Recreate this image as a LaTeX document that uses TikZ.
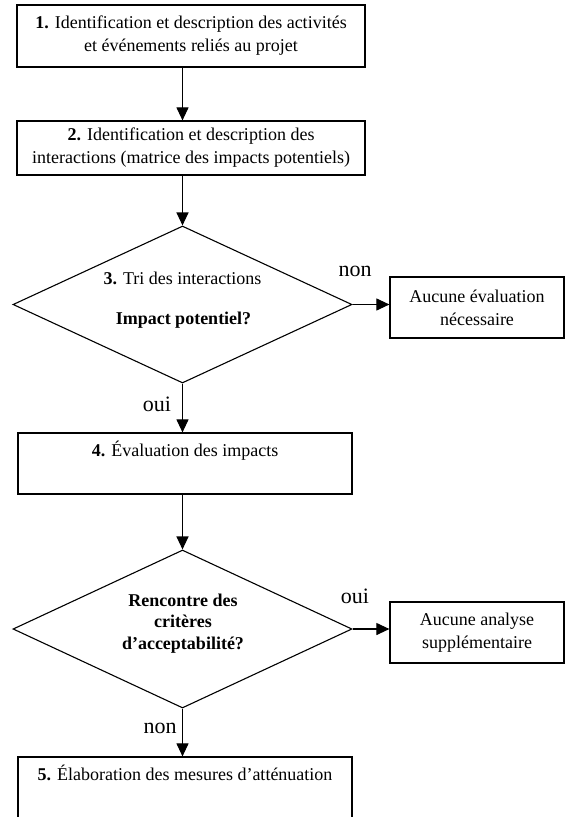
\documentclass[tikz,border=0pt]{standalone}
\usepackage{fontspec}
\setmainfont{Liberation Serif}
\usetikzlibrary{shapes.geometric,arrows.meta}
\tikzset{
  base/.style={font=\fontsize{18}{23}\selectfont, align=center, inner sep=0pt},
  box/.style={base, draw, line width=1.2pt, rectangle, minimum width=#1},
  dia/.style={draw, line width=1.1pt, diamond, inner sep=0pt, minimum width=339pt},
  txt/.style={base},
  lbl/.style={base, font=\fontsize{22}{26}\selectfont},
  arr/.style={line width=1.1pt, -{Triangle[length=13pt,width=12pt]}}
}
\begin{document}
\begin{tikzpicture}[x=1pt,y=-1pt]
\useasboundingbox (0,0) rectangle (565,817);
\clip (0,0) rectangle (565,817);
% boxes
\node[box=348pt, minimum height=62pt] (b1) at (191,36)
  {\textbf{1.} Identification et description des activités\\ et événements reliés au projet};
\node[box=348pt, minimum height=54pt] (b2) at (191,148)
  {\textbf{2.} Identification et description des\\ interactions (matrice des impacts potentiels)};
\node[dia, minimum height=157pt] (d1) at (182.5,304.5) {};
\node[txt] (t3a) at (182.5,278) {\textbf{3.} Tri des interactions};
\node[txt] (t3b) at (183.5,320) {\textbf{Impact potentiel?}};
\node[box=174pt, minimum height=61pt] (r1) at (477,307.5)
  {Aucune évaluation\\ nécessaire};
\node[box=334pt, minimum height=61pt] (b4) at (185,463.5)
  {\textbf{4.} Évaluation des impacts\\ \strut};
\node[dia, minimum height=158pt] (d2) at (182.5,629) {};
\node[txt, font=\fontsize{18}{21.5}\selectfont\bfseries] (t5) at (183,623.5)
  {Rencontre des\\ critères\\ d’acceptabilité?};
\node[box=174pt, minimum height=61pt] (r2) at (477,632.5)
  {Aucune analyse\\ supplémentaire};
\node[box=334pt, minimum height=62pt] (b5) at (185,788)
  {\textbf{5.} Élaboration des mesures d’atténuation\\ \strut};
% labels
\node[lbl] (lnon1) at (355,271) {non};
\node[lbl] (loui1) at (157,404) {oui};
\node[lbl] (loui2) at (355,596) {oui};
\node[lbl] (lnon2) at (160,728) {non};
% connectors
\draw[arr] (b1.south -| d1.north) -- (b2.north -| d1.north);
\draw[arr] (b2.south -| d1.north) -- (d1.north);
\draw[arr] (d1.east) -- (d1.east -| r1.west);
\draw[arr] (d1.south) -- (b4.north -| d1.south);
\draw[arr] (b4.south -| d2.north) -- (d2.north);
\draw[arr] (d2.east) -- (d2.east -| r2.west);
\draw[arr] (d2.south) -- (b5.north -| d2.south);
\end{tikzpicture}
\end{document}
